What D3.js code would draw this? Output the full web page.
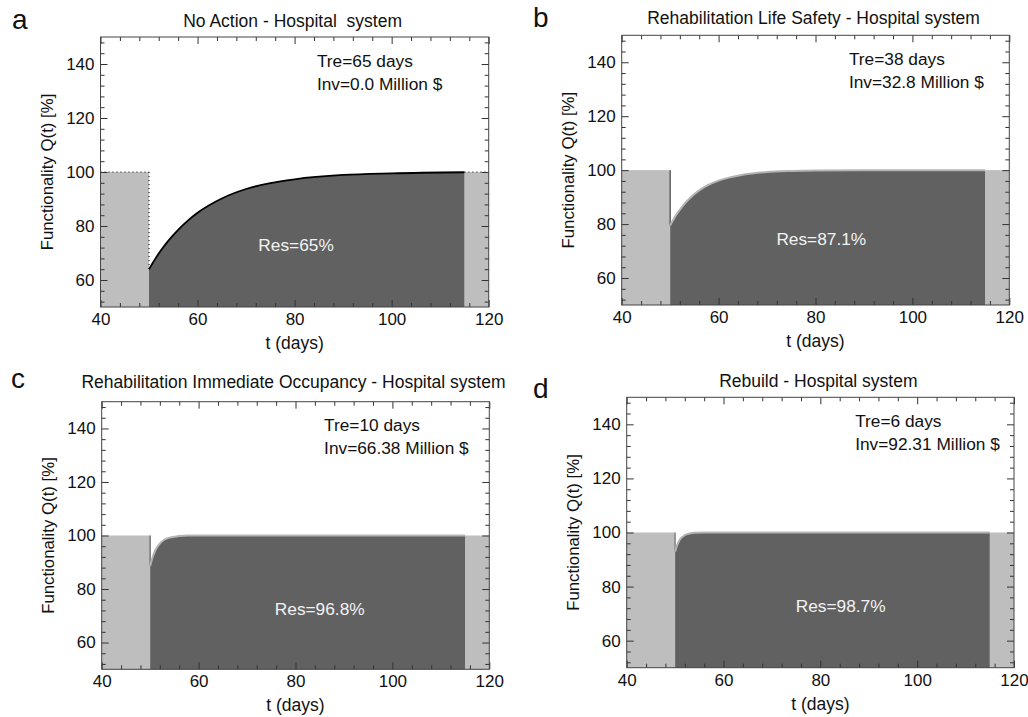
<!DOCTYPE html>
<html>
<head>
<meta charset="utf-8">
<script src="https://cdn.jsdelivr.net/npm/d3@7"></script>
<style>
  body { margin: 0; background: #fff; }
  svg { font-family: "Liberation Sans", Arial, Helvetica, sans-serif; }
  text { white-space: pre; }
</style>
</head>
<body>
<script>
// recovery curves (t in days, Q in %)
var tDays = [50, 50.5, 51, 52, 53, 54, 56, 58, 60, 65, 70, 75, 80, 90, 100, 115];
var qNoAction   = [64.0, 65.5, 67.0, 69.8, 72.3, 74.6, 78.6, 82.0, 84.9, 90.2, 93.7, 95.9, 97.3, 98.9, 99.5, 99.9];
var qLifeSafety = [79.5, 81.1, 82.7, 85.3, 87.6, 89.5, 92.5, 94.6, 96.1, 98.3, 99.3, 99.7, 99.9, 100, 100, 100];
var qImmediate  = [88.6, 91.8, 94.2, 97.0, 98.5, 99.2, 99.8, 100, 100, 100, 100, 100, 100, 100, 100, 100];
var qRebuild    = [92.9, 95.7, 97.4, 99.0, 99.6, 99.9, 100, 100, 100, 100, 100, 100, 100, 100, 100, 100];

var eventDay = 50, controlEnd = 115, fullQ = 100;

var panelLetters = ['a', 'b', 'c', 'd'];
var titles = ['No Action - Hospital  system',
              'Rehabilitation Life Safety - Hospital system',
              'Rehabilitation Immediate Occupancy - Hospital system',
              'Rebuild - Hospital system'];
var treLabels = ['Tre=65 days', 'Tre=38 days', 'Tre=10 days', 'Tre=6 days'];
var invLabels = ['Inv=0.0 Million $', 'Inv=32.8 Million $', 'Inv=66.38 Million $', 'Inv=92.31 Million $'];
var resLabels = ['Res=65%', 'Res=87.1%', 'Res=96.8%', 'Res=98.7%'];
var series = [qNoAction, qLifeSafety, qImmediate, qRebuild];

var xTicks = [40, 60, 80, 100, 120];
var yTicks = [60, 80, 100, 120, 140];
var xMinor = d3.range(44, 120, 4).filter(function(v) { return xTicks.indexOf(v) < 0; });
var yMinor = d3.range(52, 150, 4).filter(function(v) { return yTicks.indexOf(v) < 0; });

// frames and text placement per panel
var layout = [
  {x0: 100.5, x1: 488.7, y0: 37,    y1: 307,   titleY: 27,  letter: [12, 29],  annX: 84.6, resX: 80.3, resY: 70.7, curve: '#000', curveW: 1.8, vline: '#000', dotted: true},
  {x0: 621.7, x1: 1009.3, y0: 35.3, y1: 305,   titleY: 24,  letter: [533, 27], annX: 86.9, resX: 81.2, resY: 72.2, curve: '#b4b4b4', curveW: 2, vline: '#222', dotted: false},
  {x0: 101.7, x1: 489.3, y0: 401.7, y1: 669.3, titleY: 388, letter: [11, 388], annX: 85.9, resX: 85.0, resY: 70.3, curve: '#b4b4b4', curveW: 2, vline: '#444', dotted: false},
  {x0: 626.7, x1: 1014,  y0: 397.3, y1: 667.7, titleY: 387, letter: [533, 398], annX: 87.2, resX: 84.2, resY: 70.6, curve: '#b4b4b4', curveW: 2, vline: '#555', dotted: false}
];

var svg = d3.select('body').append('svg')
    .attr('width', 1028)
    .attr('height', 717);

series.forEach(function(q, i) {
  var L = layout[i];
  var x = d3.scaleLinear().domain([40, 120]).range([L.x0, L.x1]);
  var y = d3.scaleLinear().domain([50, 150]).range([L.y1, L.y0]);
  var pts = tDays.map(function(t, k) { return {t: t, q: q[k]}; });
  var g = svg.append('g');

  // light gray: before the event and after control time
  g.append('rect')
      .attr('x', x(40)).attr('y', y(fullQ))
      .attr('width', x(eventDay) - x(40)).attr('height', y(50) - y(fullQ))
      .attr('fill', '#bebebe');
  g.append('rect')
      .attr('x', x(controlEnd)).attr('y', y(fullQ))
      .attr('width', x(120) - x(controlEnd)).attr('height', y(50) - y(fullQ))
      .attr('fill', '#bebebe');

  // dark area under recovery curve
  var area = d3.area()
      .x(function(d) { return x(d.t); })
      .y0(y(50))
      .y1(function(d) { return y(d.q); })
      .curve(d3.curveMonotoneX);
  g.append('path').datum(pts).attr('d', area).attr('fill', '#616161');

  var line = d3.line()
      .x(function(d) { return x(d.t); })
      .y(function(d) { return y(d.q); })
      .curve(d3.curveMonotoneX);

  // drop at the event
  g.append('line')
      .attr('x1', x(eventDay)).attr('x2', x(eventDay))
      .attr('y1', y(fullQ)).attr('y2', y(q[0]))
      .attr('stroke', L.vline).attr('stroke-width', 1)
      .attr('stroke-dasharray', L.dotted ? '1,3' : null);

  if (L.dotted) {
    g.append('line')
        .attr('x1', x(40)).attr('x2', x(eventDay))
        .attr('y1', y(fullQ)).attr('y2', y(fullQ))
        .attr('stroke', '#000').attr('stroke-dasharray', '1,3');
    g.append('line')
        .attr('x1', x(controlEnd)).attr('x2', x(120))
        .attr('y1', y(fullQ)).attr('y2', y(fullQ))
        .attr('stroke', '#000').attr('stroke-dasharray', '1,3');
  }

  g.append('path').datum(pts).attr('d', line)
      .attr('fill', 'none')
      .attr('stroke', L.curve)
      .attr('stroke-width', L.curveW);

  // axes, ticks pointing inward on all four sides
  function styleAxis(sel) {
    sel.select('.domain').remove();
    sel.selectAll('line').attr('stroke', '#333');
    sel.selectAll('text').attr('font-size', 17).attr('fill', '#111')
        .attr('font-family', '"Liberation Sans", Arial, sans-serif');
  }
  g.append('g').attr('transform', 'translate(0,' + L.y1 + ')')
      .call(d3.axisBottom(x).tickValues(xTicks).tickSize(-7).tickPadding(6).tickFormat(d3.format('d')))
      .call(styleAxis);
  g.append('g').attr('transform', 'translate(0,' + L.y1 + ')')
      .call(d3.axisBottom(x).tickValues(xMinor).tickSize(-4).tickFormat(''))
      .call(styleAxis);
  g.append('g').attr('transform', 'translate(0,' + L.y0 + ')')
      .call(d3.axisTop(x).tickValues(xTicks).tickSize(-7).tickFormat(''))
      .call(styleAxis);
  g.append('g').attr('transform', 'translate(0,' + L.y0 + ')')
      .call(d3.axisTop(x).tickValues(xMinor).tickSize(-4).tickFormat(''))
      .call(styleAxis);
  g.append('g').attr('transform', 'translate(' + L.x0 + ',0)')
      .call(d3.axisLeft(y).tickValues(yTicks).tickSize(-7).tickPadding(6).tickFormat(d3.format('d')))
      .call(styleAxis);
  g.append('g').attr('transform', 'translate(' + L.x0 + ',0)')
      .call(d3.axisLeft(y).tickValues(yMinor).tickSize(-4).tickFormat(''))
      .call(styleAxis);
  g.append('g').attr('transform', 'translate(' + L.x1 + ',0)')
      .call(d3.axisRight(y).tickValues(yTicks).tickSize(-7).tickFormat(''))
      .call(styleAxis);
  g.append('g').attr('transform', 'translate(' + L.x1 + ',0)')
      .call(d3.axisRight(y).tickValues(yMinor).tickSize(-4).tickFormat(''))
      .call(styleAxis);

  g.append('rect')
      .attr('x', L.x0).attr('y', L.y0)
      .attr('width', L.x1 - L.x0).attr('height', L.y1 - L.y0)
      .attr('fill', 'none').attr('stroke', '#444').attr('stroke-width', 1);

  // labels
  var cx = (L.x0 + L.x1) / 2;
  g.append('text').attr('x', cx - 2).attr('y', L.titleY)
      .attr('text-anchor', 'middle').attr('font-size', 17.5).attr('fill', '#111')
      .text(titles[i]);
  g.append('text').attr('x', cx).attr('y', L.y1 + 42)
      .attr('text-anchor', 'middle').attr('font-size', 17.5).attr('fill', '#111')
      .text('t (days)');
  g.append('text')
      .attr('transform', 'translate(' + (L.x0 - 48) + ',' + ((L.y0 + L.y1) / 2) + ') rotate(-90)')
      .attr('text-anchor', 'middle').attr('font-size', 16.8).attr('fill', '#111')
      .text('Functionality Q(t) [%]');
  g.append('text').attr('x', x(L.annX)).attr('y', y(139))
      .attr('font-size', 17.3).attr('fill', '#111')
      .text(treLabels[i]);
  g.append('text').attr('x', x(L.annX)).attr('y', y(139) + 23)
      .attr('font-size', 17.3).attr('fill', '#111')
      .text(invLabels[i]);
  g.append('text').attr('x', x(L.resX)).attr('y', y(L.resY))
      .attr('text-anchor', 'middle').attr('font-size', 17.3).attr('fill', '#f2f2f2')
      .text(resLabels[i]);
  svg.append('text').attr('x', L.letter[0]).attr('y', L.letter[1])
      .attr('font-size', 28).attr('fill', '#111')
      .text(panelLetters[i]);
});
</script>
</body>
</html>
